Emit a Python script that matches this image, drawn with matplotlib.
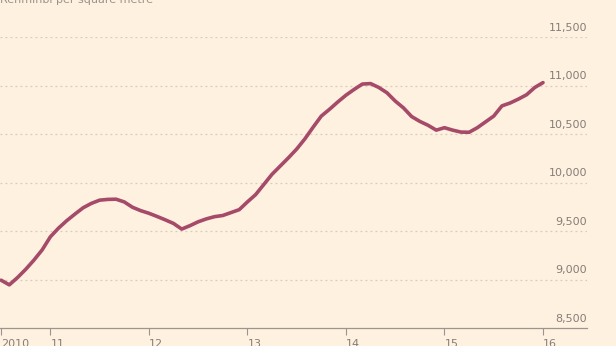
import matplotlib.pyplot as plt
import matplotlib.transforms as mtransforms

# monthly average price, Jul 2010 - Jan 2016 (renminbi per square metre)
start_year = 2010.5
prices = [
    8993, 8945, 9020, 9105, 9200, 9305, 9440, 9530, 9607, 9675, 9740, 9785,
    9818, 9826, 9828, 9800, 9745, 9710, 9683, 9650, 9615, 9578, 9520, 9555,
    9595, 9625, 9648, 9660, 9690, 9720, 9800, 9875, 9980, 10085, 10170, 10255,
    10345, 10450, 10570, 10685, 10755, 10830, 10900, 10960, 11015, 11020, 10980, 10925,
    10840, 10770, 10680, 10630, 10590, 10540, 10565, 10540, 10520, 10518, 10565, 10625,
    10685, 10790, 10820, 10860, 10905, 10980, 11030,
]
x_ticks = [2010.5, 2011, 2012, 2013, 2014, 2015, 2016]
x_labels = ["2010", "11", "12", "13", "14", "15", "16"]
y_ticks = [8500, 9000, 9500, 10000, 10500, 11000, 11500]
y_labels = ["8,500", "9,000", "9,500", "10,000", "10,500", "11,000", "11,500"]

bg = "#fff1e0"
line_color = "#a54a68"
text_color = "#857d78"


def main() -> None:
    years = [start_year + i / 12 for i in range(len(prices))]

    fig = plt.figure(figsize=(6.16, 3.46), dpi=100, facecolor=bg)
    ax = fig.add_axes([0, 0.052, 0.953, 0.841], facecolor=bg)

    for v in y_ticks[1:]:
        ax.axhline(v, color="#d8cbbb", lw=0.9, ls=(0, (1.5, 2.5)), zorder=1)

    ax.plot(years, prices, color=line_color, lw=2.6, solid_capstyle="round",
            solid_joinstyle="round", zorder=3)

    ax.set_xlim(2010.489, 2016.447)
    ax.set_ylim(8500, 11500)

    for s in ["left", "right", "top"]:
        ax.spines[s].set_visible(False)
    ax.spines["bottom"].set_color("#9c948e")
    ax.spines["bottom"].set_linewidth(0.9)

    ax.set_yticks([])
    ax.set_xticks(x_ticks)
    ax.set_xticklabels(x_labels, ha="left", fontsize=8, color=text_color)
    ax.tick_params(axis="x", direction="out", length=5, width=0.8,
                   color="#9c948e", pad=3)

    trans = mtransforms.blended_transform_factory(ax.transAxes, ax.transData)
    for v, lab in zip(y_ticks, y_labels):
        ax.annotate(lab, xy=(1.0, v), xycoords=trans, xytext=(0, 3),
                    textcoords="offset points", ha="right", va="bottom",
                    fontsize=8, color=text_color)

    fig.text(0.0, 1.0, "Renminbi per square metre", ha="left", va="center",
             fontsize=8, color="#9a928c")

    fig.savefig("out.png", dpi=100, facecolor=bg)


if __name__ == "__main__":
    main()
